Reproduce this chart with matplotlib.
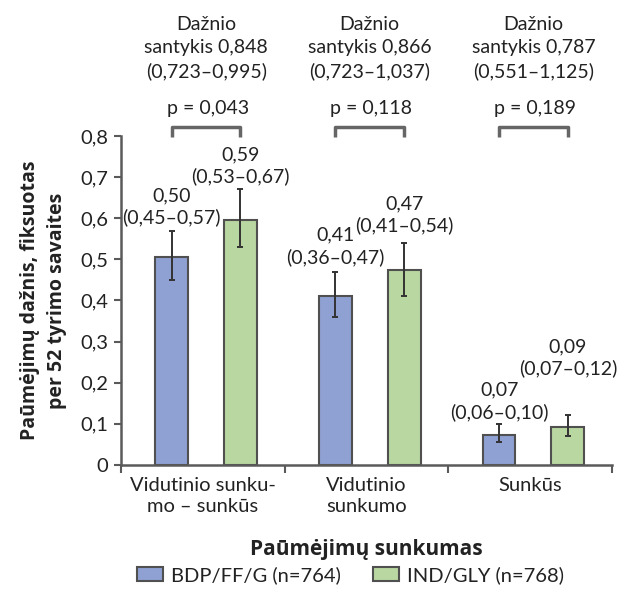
import matplotlib.pyplot as plt
import numpy as np

plt.rcParams['font.family'] = ['Lato', 'DejaVu Sans']

# duomenys
kategorijos = ["Vidutinio sunku-\nmo – sunkūs", "Vidutinio\nsunkumo", "Sunkūs"]
bdp = [0.505, 0.41, 0.073]
bdp_lo = [0.45, 0.36, 0.055]
bdp_hi = [0.57, 0.47, 0.10]
ind = [0.595, 0.473, 0.093]
ind_lo = [0.53, 0.41, 0.07]
ind_hi = [0.67, 0.54, 0.122]
bdp_txt = ["0,50\n(0,45–0,57)", "0,41\n(0,36–0,47)", "0,07\n(0,06–0,10)"]
ind_txt = ["0,59\n(0,53–0,67)", "0,47\n(0,41–0,54)", "0,09\n(0,07–0,12)"]
santykis = ["Dažnio\nsantykis 0,848\n(0,723–0,995)",
            "Dažnio\nsantykis 0,866\n(0,723–1,037)",
            "Dažnio\nsantykis 0,787\n(0,551–1,125)"]
p_reiksmes = ["p = 0,043", "p = 0,118", "p = 0,189"]
y_ticks = [0, 0.1, 0.2, 0.3, 0.4, 0.5, 0.6, 0.7, 0.8]
y_tick_labels = ["0", "0,1", "0,2", "0,3", "0,4", "0,5", "0,6", "0,7", "0,8"]

# etikečių pakėlimas virš klaidos juostos (taškais)
bdp_pad = [3, 4, 2]
ind_pad = [3, 6, 27]

spalva_m = '#8fa1d3'
spalva_z = '#b9d7a1'
krastas = '#505050'
asis = '#5a5a5a'
tekstas = '#222222'
fs = 14

fig = plt.figure(figsize=(6.29, 5.93), dpi=100)
ax = fig.add_axes([0.1924, 0.2159, 0.7806, 0.5548])

x = np.arange(len(kategorijos))
xb = x - 0.19
xg = x + 0.23
w = 0.2

ax.bar(xb, bdp, w, color=spalva_m, edgecolor=krastas, linewidth=1.5, label="BDP/FF/G (n=764)", zorder=2)
ax.bar(xg, ind, w, color=spalva_z, edgecolor=krastas, linewidth=1.5, label="IND/GLY (n=768)", zorder=2)

err_b = [np.array(bdp) - np.array(bdp_lo), np.array(bdp_hi) - np.array(bdp)]
err_g = [np.array(ind) - np.array(ind_lo), np.array(ind_hi) - np.array(ind)]
ax.errorbar(xb, bdp, yerr=err_b, fmt='none', ecolor='#333333', elinewidth=1.4, capsize=2.5, capthick=1.4, zorder=3)
ax.errorbar(xg, ind, yerr=err_g, fmt='none', ecolor='#333333', elinewidth=1.4, capsize=2.5, capthick=1.4, zorder=3)

for i in range(len(x)):
    ax.annotate(bdp_txt[i], (xb[i], bdp_hi[i]), xytext=(0, bdp_pad[i]), textcoords='offset points',
                ha='center', va='bottom', fontsize=fs, color=tekstas, linespacing=1.3)
    ax.annotate(ind_txt[i], (xg[i], ind_hi[i]), xytext=(0, ind_pad[i]), textcoords='offset points',
                ha='center', va='bottom', fontsize=fs, color=tekstas, linespacing=1.3)
    mid = (xb[i] + xg[i]) / 2
    ax.text(mid, 1.014, santykis[i], ha='center', va='center', fontsize=fs, color=tekstas,
            linespacing=1.45, clip_on=False)
    ax.text(mid + 0.01, 0.866, p_reiksmes[i], ha='center', va='center', fontsize=fs, color=tekstas, clip_on=False)
    ax.plot([xb[i], xb[i], xg[i], xg[i]], [0.798, 0.822, 0.822, 0.798], color='#666666', lw=2.5,
            clip_on=False, solid_capstyle='butt')

ax.set_xlim(-0.5, 2.5)
ax.set_ylim(0, 0.8)
ax.set_yticks(y_ticks)
ax.set_yticklabels(y_tick_labels, fontsize=14.5, color=tekstas)
ax.set_xticks(x)
ax.set_xticklabels(kategorijos, fontsize=14.5, color=tekstas, linespacing=1.25)
ax.set_xticks([-0.5, 0.5, 1.5, 2.5], minor=True)
ax.tick_params(axis='x', which='major', length=0, pad=9)
ax.tick_params(axis='x', which='minor', length=6, width=1.5, color=asis, direction='out')
ax.tick_params(axis='y', length=5, width=1.5, color=asis, pad=4)

for s in ['top', 'right']:
    ax.spines[s].set_visible(False)
for s in ['left', 'bottom']:
    ax.spines[s].set_color(asis)
    ax.spines[s].set_linewidth(1.8)

ax.set_ylabel("Paūmėjimų dažnis, fiksuotas\nper 52 tyrimo savaites", fontsize=14, fontweight='bold',
              family=['Open Sans', 'DejaVu Sans'], color=tekstas, linespacing=1.45, labelpad=10)
ax.set_xlabel("Paūmėjimų sunkumas", fontsize=15, fontweight='bold', family=['Open Sans', 'DejaVu Sans'],
              color=tekstas, labelpad=17)

leg = fig.legend(loc='center', bbox_to_anchor=(0.557, 0.03), ncol=2, frameon=False, fontsize=14.5,
                 handlelength=1.3, handleheight=0.7, columnspacing=1.6, handletextpad=0.4,
                 borderpad=0, borderaxespad=0)
for t in leg.get_texts():
    t.set_color(tekstas)

fig.savefig('out.png', dpi=100)
